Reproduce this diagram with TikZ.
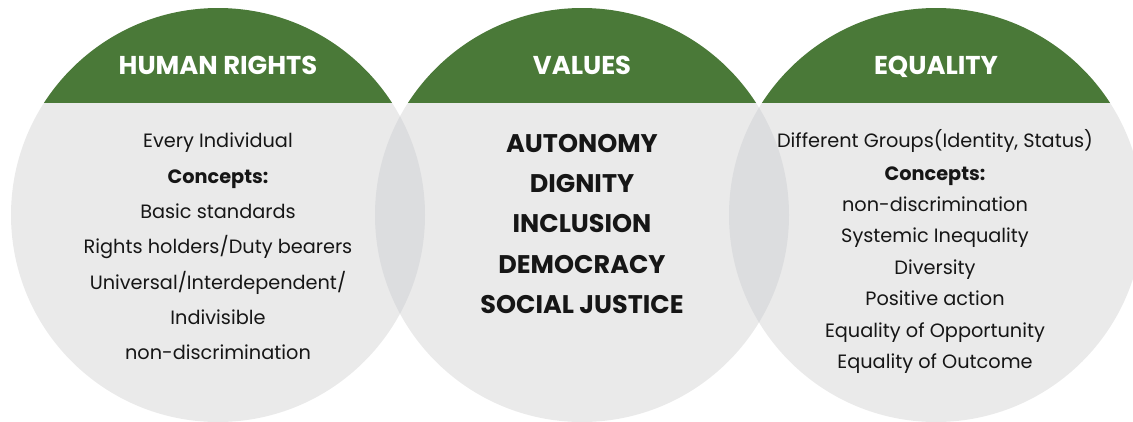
\documentclass[tikz,border=0pt]{standalone}
\usepackage{fontspec}
\setmainfont{Poppins}
\definecolor{capgreen}{RGB}{74,121,56}
\definecolor{disc}{RGB}{234,234,234}
\definecolor{lens}{RGB}{220,221,223}
\definecolor{ink}{RGB}{22,22,22}
\begin{document}
\begin{tikzpicture}[x=1pt,y=1pt,
  txt/.style={anchor=center,inner sep=0pt,text height=0.7em,text depth=0pt},
  head/.style={txt,yshift=-7pt,text=white,font=\fontsize{25.8}{30}\selectfont\bfseries},
  val/.style={txt,yshift=-6pt,text=ink,font=\fontsize{25.5}{30}\selectfont\bfseries},
  body/.style={txt,yshift=-5pt,text=ink,font=\fontsize{19.3}{23}\selectfont},
  bodyb/.style={txt,yshift=-5pt,text=ink,font=\fontsize{19.3}{23}\selectfont\bfseries}]
\useasboundingbox (0,0) rectangle (1133,-421);
\clip (0,0) rectangle (1133,-421);
\def\R{207}
\coordinate (A) at (218,-215);
\coordinate (B) at (582,-215);
\coordinate (C) at (936,-215);
% discs
\fill[disc] (A) circle (\R);
\fill[disc] (B) circle (\R);
\fill[disc] (C) circle (\R);
% lenses
\begin{scope}
  \clip (A) circle (\R);
  \fill[lens] (B) circle (\R);
\end{scope}
\begin{scope}
  \clip (B) circle (\R);
  \fill[lens] (C) circle (\R);
\end{scope}
% green caps
\begin{scope}
  \clip (0,-102) rectangle (1133,0);
  \fill[white] (0,-102) rectangle (1133,0);
  \fill[capgreen] (A) circle (\R);
  \fill[capgreen] (B) circle (\R);
  \fill[capgreen] (C) circle (\R);
\end{scope}
% headings
\node[head] (hA) at (218,-64) {HUMAN RIGHTS};
\node[head] (hB) at (582,-64) {VALUES};
\node[head] (hC) at (936,-64) {EQUALITY};
% left
\node[body]  (a1) at (218,-139) {Every Individual};
\node[bodyb] (a2) at (218,-175) {Concepts:};
\node[body]  (a3) at (218,-210) {Basic standards};
\node[body]  (a4) at (218,-245) {Rights holders/Duty bearers};
\node[body]  (a5) at (218,-281) {Universal/Interdependent/};
\node[body]  (a6) at (218,-316) {Indivisible};
\node[body]  (a7) at (218,-351) {non-discrimination};
% middle
\node[val] (b1) at (582,-143) {AUTONOMY};
\node[val] (b2) at (582,-183) {DIGNITY};
\node[val] (b3) at (582,-223) {INCLUSION};
\node[val] (b4) at (582,-264) {DEMOCRACY};
\node[val] (b5) at (582,-304) {SOCIAL JUSTICE};
% right
\node[body]  (c1) at (935,-139) {Different Groups(Identity, Status)};
\node[bodyb] (c2) at (935,-172) {Concepts:};
\node[body]  (c3) at (935,-203) {non-discrimination};
\node[body]  (c4) at (935,-234) {Systemic Inequality};
\node[body]  (c5) at (935,-266) {Diversity};
\node[body]  (c6) at (935,-297) {Positive action};
\node[body]  (c7) at (935,-329) {Equality of Opportunity};
\node[body]  (c8) at (935,-360) {Equality of Outcome};
\end{tikzpicture}
\end{document}
